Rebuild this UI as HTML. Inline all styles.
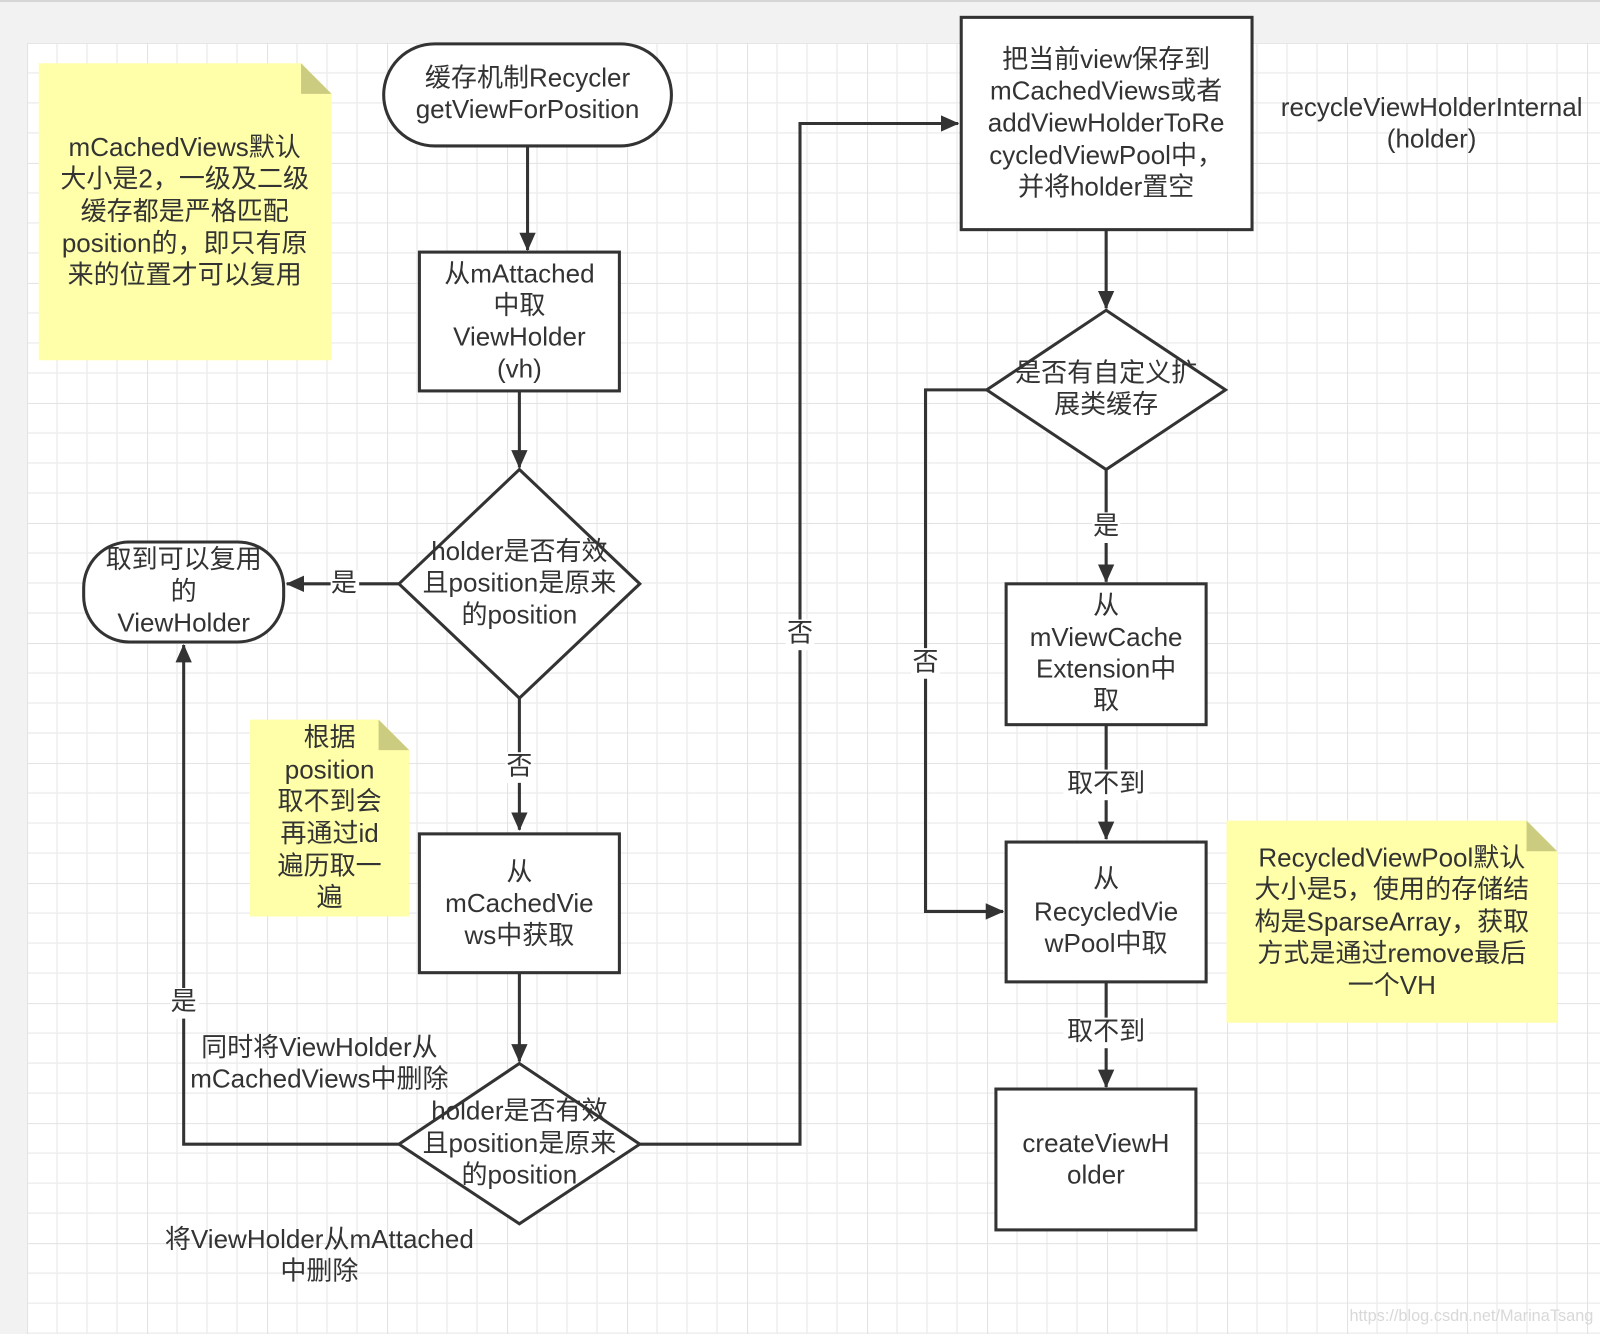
<!DOCTYPE html>
<html><head><meta charset="utf-8"><style>
html,body{margin:0;padding:0;background:#f2f2f2;}
svg{display:block}
text{font-family:"Liberation Sans","Noto Sans CJK SC",sans-serif;font-size:25.5px;fill:#333;text-anchor:middle;dominant-baseline:middle}
</style></head><body>
<svg width="1600" height="1334" viewBox="0 0 1568 1307" preserveAspectRatio="none" xmlns="http://www.w3.org/2000/svg">
<defs>
<pattern id="g" x="26.5" y="42" width="117.6" height="117.6" patternUnits="userSpaceOnUse">
<rect width="117.6" height="117.6" fill="#fff"/>
<path d="M29.4 0V117.6M58.8 0V117.6M88.2 0V117.6M0 29.4H117.6M0 58.8H117.6M0 88.2H117.6" stroke="#eeeeee" stroke-width="1.5"/>
<path d="M0 0V117.6M0 0H117.6" stroke="#e2e2e2" stroke-width="2"/>
</pattern>
<marker id="a" markerWidth="18" markerHeight="18" refX="17" refY="9" orient="auto" markerUnits="userSpaceOnUse" viewBox="0 0 18 18"><path d="M0 1L18 9L0 17z" fill="#333"/></marker>
</defs>
<rect x="0" y="0" width="1568" height="1307" fill="#f2f2f2"/>
<rect x="0" y="0" width="1568" height="2" fill="#d6d6d6"/>
<rect x="26.5" y="42" width="1542" height="1265" fill="url(#g)"/>
<g fill="#ffffaa">
<path d="M38 62H295L325 92V353H38z"/>
<path d="M245 705H371L401 735V898H245z"/>
<path d="M1202 804H1496L1526 834V1002H1202z"/>
</g>
<g fill="#cccc80">
<path d="M295 62L325 92H295z"/><path d="M371 705L401 735H371z"/><path d="M1496 804L1526 834H1496z"/>
</g>
<g fill="#fff" stroke="#333" stroke-width="3">
<rect x="376" y="43" width="282" height="100" rx="50"/>
<rect x="411" y="247" width="196" height="136"/>
<path d="M509 460L627 572L509 684L391 572z"/>
<rect x="82" y="531" width="196" height="98" rx="45"/>
<rect x="411" y="817" width="196" height="136"/>
<path d="M509 1042L627 1121L509 1199L391 1121z"/>
<rect x="942" y="17" width="285" height="208"/>
<path d="M1084 304L1201 382L1084 460L967 382z"/>
<rect x="986" y="572" width="196" height="138"/>
<rect x="986" y="825" width="196" height="137"/>
<rect x="976" y="1067" width="196" height="138"/>
</g>
<g fill="none" stroke="#333" stroke-width="3" marker-end="url(#a)">
<path d="M517 143V245"/>
<path d="M509 383V458"/>
<path d="M391 572H281"/>
<path d="M509 684V813"/>
<path d="M509 953V1040"/>
<path d="M391 1121H180V632"/>
<path d="M627 1121H784V121H939"/>
<path d="M1084 225V302"/>
<path d="M1084 460V570"/>
<path d="M1084 710V822"/>
<path d="M967 382H907V893H983"/>
<path d="M1084 962V1065"/>
</g>
<g>
<rect x="324" y="559" width="28" height="28" fill="#fff"/><text x="337" y="573">是</text>
<rect x="495" y="737" width="28" height="30" fill="#fff"/><text x="509" y="752">否</text>
<rect x="167" y="968" width="28" height="30" fill="#fff"/><text x="180" y="983">是</text>
<rect x="770" y="607" width="28" height="30" fill="#fff"/><text x="784" y="622">否</text>
<rect x="893" y="635" width="28" height="30" fill="#fff"/><text x="907" y="650">否</text>
<rect x="1070" y="502" width="28" height="30" fill="#fff"/><text x="1084" y="517">是</text>
<rect x="1042" y="754" width="84" height="30" fill="#fff"/><text x="1084" y="769">取不到</text>
<rect x="1042" y="997" width="84" height="30" fill="#fff"/><text x="1084" y="1012">取不到</text>
</g>
<text x="181" y="146">mCachedViews默认</text><text x="181" y="177">大小是2，一级及二级</text><text x="181" y="209">缓存都是严格匹配</text><text x="181" y="240">position的，即只有原</text><text x="181" y="271">来的位置才可以复用</text>
<text x="517" y="78">缓存机制Recycler</text><text x="517" y="109">getViewForPosition</text>
<text x="509" y="270">从mAttached</text><text x="509" y="301">中取</text><text x="509" y="332">ViewHolder</text><text x="509" y="363">(vh)</text>
<text x="509" y="542">holder是否有效</text><text x="509" y="573">且position是原来</text><text x="509" y="604">的position</text>
<text x="180" y="550">取到可以复用</text><text x="180" y="581">的</text><text x="180" y="612">ViewHolder</text>
<text x="323" y="724">根据</text><text x="323" y="756">position</text><text x="323" y="787">取不到会</text><text x="323" y="818">再通过id</text><text x="323" y="850">遍历取一</text><text x="323" y="881">遍</text>
<text x="509" y="856">从</text><text x="509" y="887">mCachedVie</text><text x="509" y="918">ws中获取</text>
<text x="509" y="1090">holder是否有效</text><text x="509" y="1122">且position是原来</text><text x="509" y="1153">的position</text>
<text x="313" y="1028">同时将ViewHolder从</text><text x="313" y="1059">mCachedViews中删除</text>
<text x="313" y="1216">将ViewHolder从mAttached</text><text x="313" y="1247">中删除</text>
<text x="1084" y="60">把当前view保存到</text><text x="1084" y="91">mCachedViews或者</text><text x="1084" y="122">addViewHolderToRe</text><text x="1084" y="154">cycledViewPool中，</text><text x="1084" y="185">并将holder置空</text>
<text x="1403" y="107">recycleViewHolderInternal</text><text x="1403" y="138">(holder)</text>
<text x="1084" y="367">是否有自定义扩</text><text x="1084" y="398">展类缓存</text>
<text x="1084" y="595">从</text><text x="1084" y="626">mViewCache</text><text x="1084" y="657">Extension中</text><text x="1084" y="688">取</text>
<text x="1084" y="863">从</text><text x="1084" y="895">RecycledVie</text><text x="1084" y="926">wPool中取</text>
<text x="1074" y="1122">createViewH</text><text x="1074" y="1153">older</text>
<text x="1364" y="842">RecycledViewPool默认</text><text x="1364" y="873">大小是5，使用的存储结</text><text x="1364" y="905">构是SparseArray，获取</text><text x="1364" y="936">方式是通过remove最后</text><text x="1364" y="967">一个VH</text>
<text x="1442" y="1290" style="font-size:16px;fill:#d8d8d8">https://blog.csdn.net/MarinaTsang</text>
</svg>
</body></html>
